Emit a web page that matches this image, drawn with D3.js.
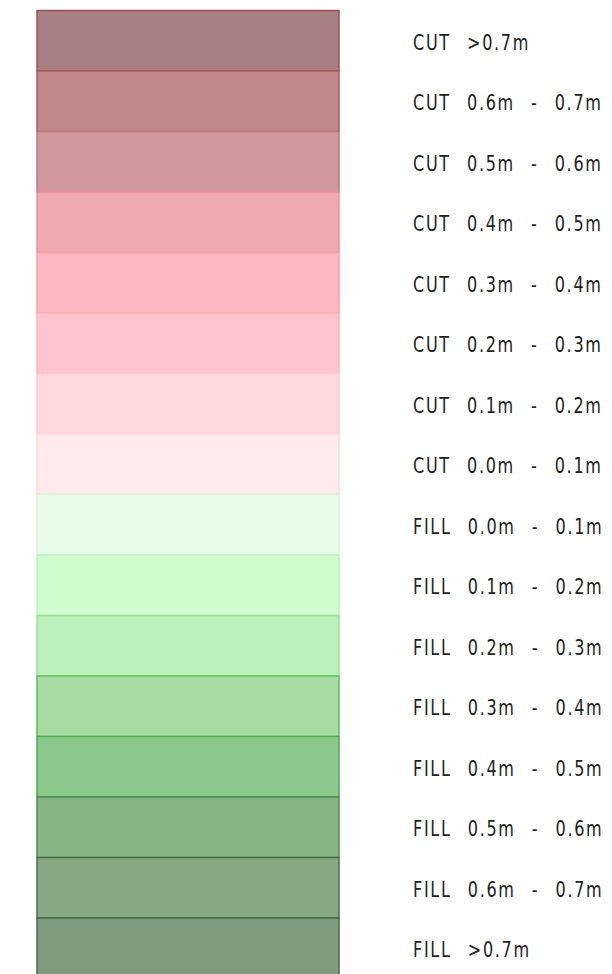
<!DOCTYPE html>
<html>
<head>
<meta charset="utf-8">
<script src="https://cdn.jsdelivr.net/npm/d3@7"></script>
<style>
  body { margin: 0; background: #fff; }
  svg { display: block; }
</style>
</head>
<body>
<svg id="chart" width="612" height="974"></svg>
<script>
// legend classes, top to bottom
var labels = [
  "CUT >0.7m", "CUT 0.6m - 0.7m", "CUT 0.5m - 0.6m", "CUT 0.4m - 0.5m",
  "CUT 0.3m - 0.4m", "CUT 0.2m - 0.3m", "CUT 0.1m - 0.2m", "CUT 0.0m - 0.1m",
  "FILL 0.0m - 0.1m", "FILL 0.1m - 0.2m", "FILL 0.2m - 0.3m", "FILL 0.3m - 0.4m",
  "FILL 0.4m - 0.5m", "FILL 0.5m - 0.6m", "FILL 0.6m - 0.7m", "FILL >0.7m"
];
var fills = [
  "#a88081", "#c2898b", "#d0979c", "#efabb0",
  "#ffb8c1", "#ffc5ce", "#ffd9dc", "#ffeaec",
  "#e8fde8", "#d0fdd0", "#bbf2bb", "#a8dca3",
  "#8bc88b", "#88b588", "#88a784", "#809a7e"
];
var strokes = [
  "#9a5053", "#a85c60", "#c07880", "#f0909a",
  "#ff9ca6", "#ffb2bb", "#ffc8cd", "#ffdade",
  "#d8f6d8", "#b8f5b8", "#96e096", "#62c062",
  "#52aa52", "#4c8c4c", "#4a724a", "#4a6a48"
];

var svg = d3.select("#chart");

var y = d3.scaleBand()
  .domain(labels)
  .range([10.5, 978.5])
  .padding(0);

var x = d3.scaleLinear()
  .domain([0, 1])
  .range([37, 339]);

var rows = svg.selectAll("g.row")
  .data(labels)
  .enter().append("g")
  .attr("class", "row");

rows.append("rect")
  .attr("x", x(0))
  .attr("y", function(d){ return y(d); })
  .attr("width", x(1) - x(0))
  .attr("height", y.bandwidth())
  .attr("fill", function(d, i){ return fills[i]; })
  .attr("stroke", function(d, i){ return strokes[i]; })
  .attr("stroke-width", 1.5);

// CAD-style label font: narrow glyphs, open spacing, wide word gaps
rows.append("text")
  .attr("transform", function(d){
    return "translate(413," + (y(d) + y.bandwidth() / 2 + 9) + ") scale(0.85,1)";
  })
  .attr("font-family", "DejaVu Sans Condensed, DejaVu Sans, sans-serif")
  .attr("font-size", 21)
  .attr("fill", "#222")
  .style("letter-spacing", "2px")
  .style("word-spacing", "11px")
  .text(function(d){ return d; });
</script>
</body>
</html>
